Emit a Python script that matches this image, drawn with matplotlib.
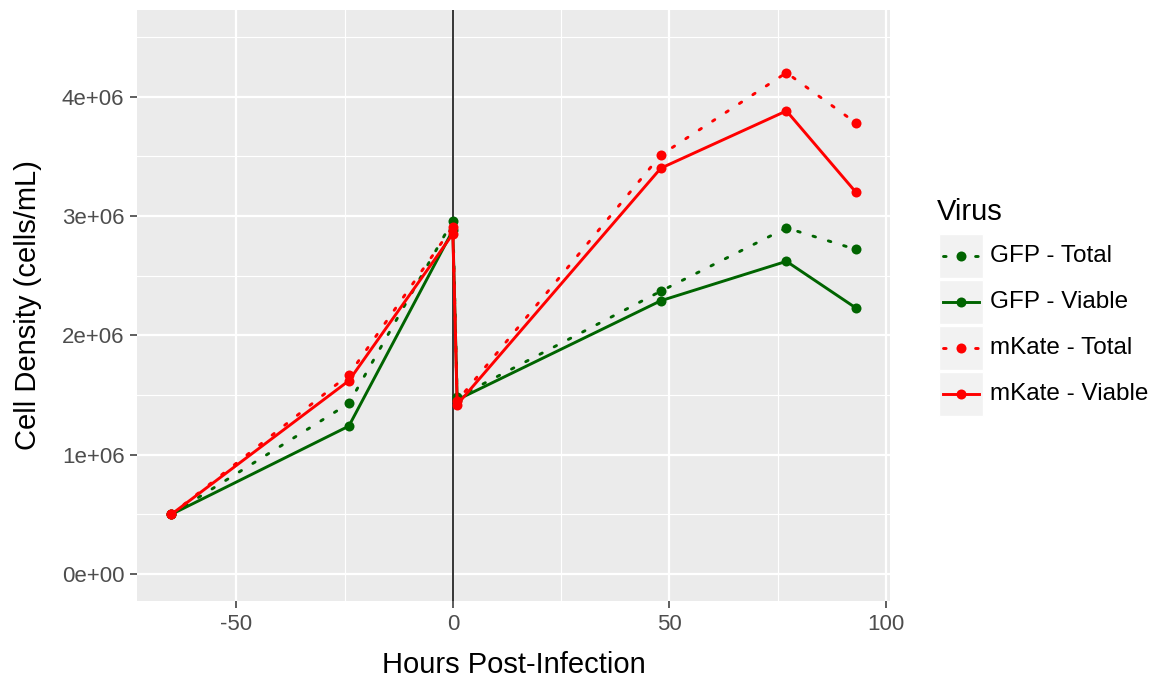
import matplotlib
matplotlib.use("Agg")
from matplotlib import pyplot as plt
from matplotlib.lines import Line2D
from matplotlib.patches import Rectangle

# data
hours = [-65, -24, 0, 1, 48, 77, 93]
gfp_total = [0.5e6, 1.43e6, 2.96e6, 1.48e6, 2.37e6, 2.90e6, 2.72e6]
gfp_viable = [0.5e6, 1.24e6, 2.88e6, 1.46e6, 2.29e6, 2.62e6, 2.23e6]
mkate_total = [0.5e6, 1.67e6, 2.91e6, 1.45e6, 3.51e6, 4.20e6, 3.78e6]
mkate_viable = [0.5e6, 1.62e6, 2.85e6, 1.42e6, 3.40e6, 3.88e6, 3.20e6]

labels = ['GFP - Total', 'GFP - Viable', 'mKate - Total', 'mKate - Viable']
series = [gfp_total, gfp_viable, mkate_total, mkate_viable]
colors = ['#006400', '#006400', '#FF0000', '#FF0000']
dotted = [True, False, True, False]

x_ticks = [-50, 0, 50, 100]
y_ticks = [0, 1e6, 2e6, 3e6, 4e6]
y_tick_labels = ['0e+00', '1e+06', '2e+06', '3e+06', '4e+06']

plt.rcParams['font.family'] = ['Liberation Sans', 'DejaVu Sans']

W, H = 1154, 680
fig = plt.figure(figsize=(W / 100, H / 100), dpi=100)
fig.patch.set_facecolor('white')

left, right, top, bottom = 137, 890, 10, 601
ax = fig.add_axes([left / W, 1 - bottom / H, (right - left) / W, (bottom - top) / H])
ax.set_facecolor('#EBEBEB')

LW = 2.1
MS = 7.2
DOT = (0, (0.9, 4.6))

def style(is_dotted):
    return DOT if is_dotted else '-'

for vals, col, dt in zip(series, colors, dotted):
    ax.plot(hours, vals, color=col, lw=LW, linestyle=style(dt),
            marker='o', markersize=MS, markeredgewidth=0, zorder=3,
            solid_capstyle='butt', dash_capstyle='round')

ax.axvline(0, color='black', lw=1.1, zorder=2.5)

# ggplot-like limits with 5% expansion
xr = max(hours) - min(hours)
ax.set_xlim(min(hours) - 0.05 * xr, max(hours) + 0.05 * xr)
ax.set_ylim(-0.225e6, 4.725e6)

ax.set_xticks(x_ticks)
ax.set_xticklabels([str(t) for t in x_ticks])
ax.set_yticks(y_ticks)
ax.set_yticklabels(y_tick_labels)
ax.set_xticks([-25, 25, 75], minor=True)
ax.set_yticks([0.5e6, 1.5e6, 2.5e6, 3.5e6, 4.5e6], minor=True)

ax.grid(which='major', color='white', lw=1.6, zorder=0)
ax.grid(which='minor', color='white', lw=0.8, zorder=0)
ax.set_axisbelow(True)

for s in ax.spines.values():
    s.set_visible(False)

ax.tick_params(which='major', length=5, width=1.1, color='#333333',
               labelsize=16, labelcolor='#4D4D4D', pad=4)
ax.tick_params(which='minor', length=0)

ax.set_xlabel('Hours Post-Infection', fontsize=21, color='black', labelpad=12)
ax.set_ylabel('Cell Density (cells/mL)', fontsize=21, color='black', labelpad=14)

# legend drawn by hand in pixel coordinates
lax = fig.add_axes([0, 0, 1, 1], facecolor='none')
lax.set_xlim(0, W)
lax.set_ylim(H, 0)
lax.axis('off')

lax.text(937, 212, 'Virus', fontsize=21, va='center', ha='left')
row_top = 234
row_h = 46
for i, (lab, col, dt) in enumerate(zip(labels, colors, dotted)):
    y0 = row_top + i * row_h
    lax.add_patch(Rectangle((939, y0), 44, row_h - 2, facecolor='#F2F2F2',
                            edgecolor='white', lw=1))
    yc = y0 + (row_h - 2) / 2
    lax.add_line(Line2D([943, 979], [yc, yc], color=col, lw=LW,
                        linestyle=style(dt), dash_capstyle='round'))
    lax.plot([961], [yc], 'o', color=col, markersize=MS, markeredgewidth=0)
    lax.text(990, yc, lab, fontsize=17.5, va='center', ha='left')

fig.savefig('out.png', dpi=100)
